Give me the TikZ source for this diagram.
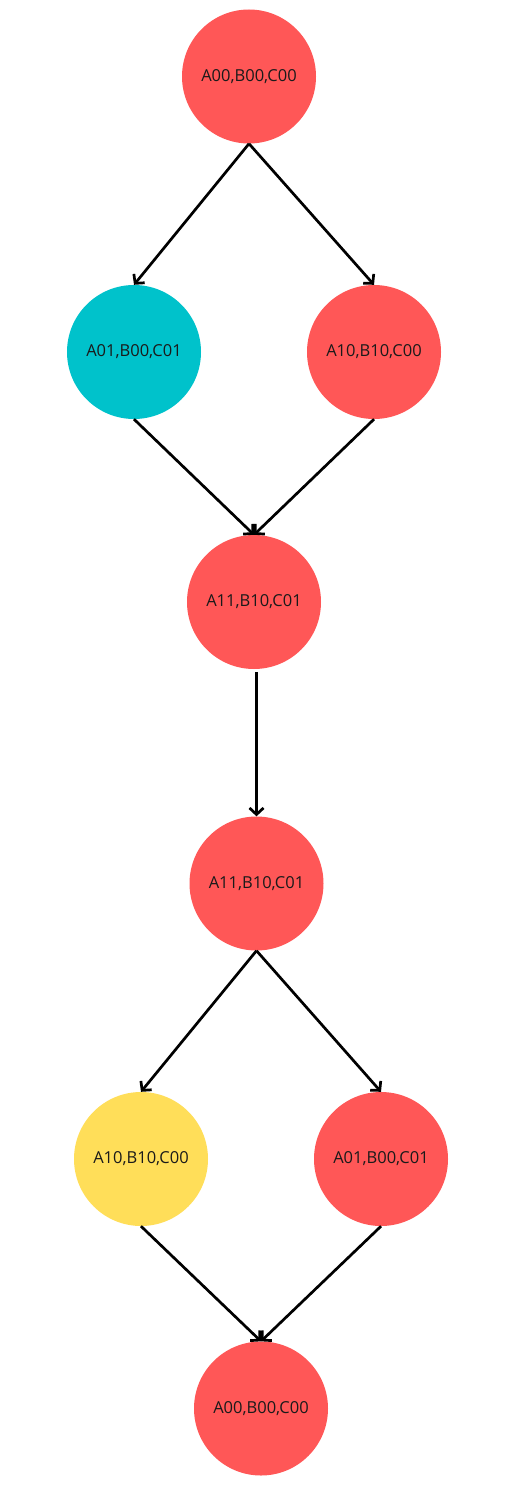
\documentclass[tikz,border=0pt]{standalone}
\usepackage{fontspec}
\setmainfont{Open Sans}
\usetikzlibrary{arrows.meta}
\definecolor{cred}{HTML}{FF5757}
\definecolor{cteal}{HTML}{00C2CB}
\definecolor{cyellow}{HTML}{FFDE59}
\definecolor{ctext}{HTML}{1A1A1A}
\begin{document}
\begin{tikzpicture}[x=1pt,y=-1pt,
  state/.style={circle,minimum size=134pt,inner sep=0pt,text=ctext,font=\fontsize{16.5pt}{18pt}\selectfont},
  link/.style={line width=2.7pt,-{Straight Barb[length=6.5pt,width=14pt,line width=2.7pt]}}]
\useasboundingbox[fill=white] (0,0) rectangle (512,1487);
\node[state,fill=cred]    (n1) at (249,76.5) {A00,B00,C00};
\node[state,fill=cteal]   (n2) at (134,352) {A01,B00,C01};
\node[state,fill=cred]    (n3) at (374,352) {A10,B10,C00};
\node[state,fill=cred]    (n4) at (254,602) {A11,B10,C01};
\node[state,fill=cred]    (n5) at (256.5,883.5) {A11,B10,C01};
\node[state,fill=cyellow] (n6) at (141,1159) {A10,B10,C00};
\node[state,fill=cred]    (n7) at (381,1159) {A01,B00,C01};
\node[state,fill=cred]    (n8) at (261,1408.5) {A00,B00,C00};
\draw[link] (n1.south) -- (n2.north);
\draw[link] (n1.south) -- (n3.north);
\draw[link] (n2.south) -- (n4.north);
\draw[link] (n3.south) -- (n4.north);
\draw[link,shorten <=3pt] (n4.south -| n5.north) -- (n5.north);
\draw[link] (n5.south) -- (n6.north);
\draw[link] (n5.south) -- (n7.north);
\draw[link] (n6.south) -- (n8.north);
\draw[link] (n7.south) -- (n8.north);
\end{tikzpicture}
\end{document}
